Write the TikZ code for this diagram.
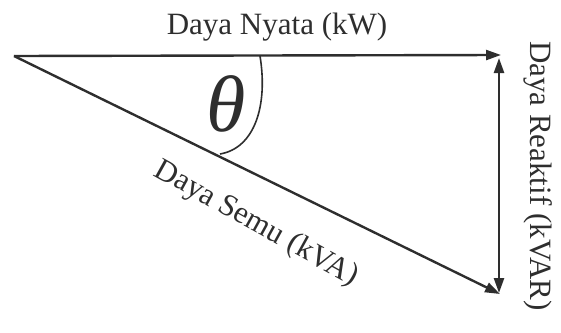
\documentclass[tikz,border=0pt]{standalone}
\usepackage{fontspec}
\setmainfont{Liberation Serif}
\usetikzlibrary{arrows.meta}
\definecolor{ink}{HTML}{2E2E2E}
\begin{document}
\begin{tikzpicture}[x=1pt,y=-1pt,
  vec/.style={draw=ink,line width=2.4pt,-{Triangle[length=15pt,width=10pt]}},
  dvec/.style={draw=ink,line width=2.4pt,{Triangle[length=15pt,width=10pt]}-{Triangle[length=15pt,width=10pt]}},
  lbl/.style={text=ink,font=\fontsize{31}{36}\selectfont,inner sep=0pt}]
\useasboundingbox (0,0) rectangle (561,332);
\coordinate (A) at (14,56);
\coordinate (B) at (501,55);
\coordinate (C) at (500,294);
\coordinate (Vt) at (499,58);
\coordinate (Vb) at (499,293);
\coordinate (P) at (260,56);
\coordinate (Q) at (220,154);
\draw[vec] (A) -- (B);
\draw[vec] (A) -- (C);
\draw[dvec] (Vt) -- (Vb);
\draw[draw=ink,line width=1.6pt] (P) .. controls (268,105) and (255,148) .. (Q);
\node[lbl] (nyata) at (277,27) {Daya Nyata (kW)};
\node[lbl,rotate=-29] (semu) at (256,224) {Daya Semu (kVA)};
\node[lbl,rotate=-90] (reaktif) at (538,176) {Daya Reaktif (kVAR)};
\node[text=ink,font=\fontsize{80}{90}\selectfont\itshape,inner sep=0pt] (theta) at (226,104) {θ};
\end{tikzpicture}
\end{document}
